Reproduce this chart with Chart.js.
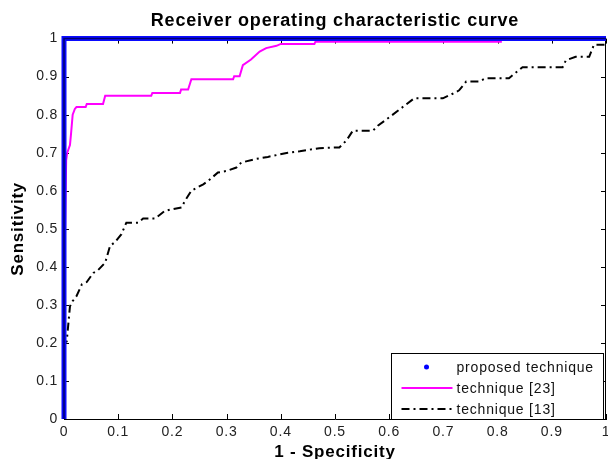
<!DOCTYPE html>
<html>
<head>
<meta charset="utf-8">
<script src="https://cdn.jsdelivr.net/npm/chart.js@4.4.1/dist/chart.umd.min.js"></script>
<style>
  html, body { margin: 0; padding: 0; background: #fff; }
  #wrap { width: 608px; height: 459px; }
</style>
</head>
<body>
<div id="wrap"><canvas id="roc" width="608" height="459"></canvas></div>
<script>
// Axis ticks
const xTicks = [0, 0.1, 0.2, 0.3, 0.4, 0.5, 0.6, 0.7, 0.8, 0.9, 1];
const yTicks = [0, 0.1, 0.2, 0.3, 0.4, 0.5, 0.6, 0.7, 0.8, 0.9, 1];

// Series names
const seriesNames = ['proposed technique', 'technique [23]', 'technique [13]'];
const chartTitle = 'Receiver operating characteristic curve';
const xTitle = '1 - Specificity';
const yTitle = 'Sensitivity';

// Proposed technique: (1 - specificity, sensitivity)
const fprProposed = [0, 0, 1];
const tprProposed = [0, 1, 1];

// Technique [23]
const fpr23 = [0, 0, 0.002, 0.004, 0.006, 0.011, 0.013, 0.016, 0.02, 0.023, 0.04, 0.042, 0.072, 0.076,
  0.161, 0.163, 0.214, 0.216, 0.229, 0.235, 0.312, 0.314, 0.324, 0.33, 0.345, 0.361, 0.373, 0.392,
  0.40, 0.462, 0.464, 0.806, 0.806, 1];
const tpr23 = [0, 0.3, 0.5, 0.68, 0.70, 0.72, 0.75, 0.80, 0.815, 0.82, 0.82, 0.828, 0.828, 0.85,
  0.85, 0.857, 0.857, 0.866, 0.866, 0.893, 0.893, 0.901, 0.901, 0.93, 0.945, 0.966, 0.975, 0.981,
  0.986, 0.986, 0.992, 0.992, 1, 1];

// Technique [13]
const fpr13 = [0, 0, 0.005, 0.008, 0.011, 0.016, 0.023, 0.033, 0.042, 0.054, 0.062, 0.076, 0.085,
  0.094, 0.106, 0.115, 0.137, 0.146, 0.168, 0.186, 0.195, 0.217, 0.223, 0.235, 0.257, 0.266, 0.284,
  0.300, 0.318, 0.327, 0.352, 0.376, 0.413, 0.435, 0.471, 0.508, 0.521, 0.533, 0.570, 0.579, 0.600,
  0.625, 0.646, 0.699, 0.717, 0.729, 0.742, 0.766, 0.778, 0.821, 0.827, 0.846, 0.920, 0.926, 0.944,
  0.969, 0.975, 0.978, 0.993, 0.998, 1];
const tpr13 = [0, 0.2, 0.204, 0.25, 0.296, 0.31, 0.323, 0.354, 0.36, 0.384, 0.39, 0.411, 0.455,
  0.465, 0.486, 0.516, 0.516, 0.527, 0.527, 0.547, 0.55, 0.556, 0.573, 0.60, 0.617, 0.626, 0.648,
  0.652, 0.661, 0.674, 0.683, 0.689, 0.70, 0.704, 0.712, 0.714, 0.732, 0.758, 0.758, 0.771, 0.793,
  0.82, 0.843, 0.843, 0.855, 0.864, 0.887, 0.887, 0.896, 0.896, 0.903, 0.925, 0.925, 0.943, 0.952,
  0.952, 0.974, 0.984, 0.984, 0.984, 1];

const toPoints = (xs, ys) => xs.map((x, i) => ({ x: x, y: ys[i] }));
const FONT = 'Liberation Sans, Arial, Helvetica, sans-serif';
const SPACING = '0.8px';
const fmt = v => (Math.round(v * 10) / 10).toString();

// Slightly wider letter spacing for all canvas text
const spacing = {
  id: 'spacing',
  beforeUpdate(c) { c.ctx.letterSpacing = SPACING; },
  beforeLayout(c) { c.ctx.letterSpacing = SPACING; },
  beforeDraw(c) { c.ctx.letterSpacing = SPACING; }
};

// Box frame with inward ticks on all four sides
const frameTicks = {
  id: 'frameTicks',
  beforeDatasetsDraw(chart) {
    const { ctx, chartArea: { left, right, top, bottom }, scales: { x, y } } = chart;
    const len = 5;
    ctx.save();
    ctx.strokeStyle = '#000';
    ctx.lineWidth = 1;
    ctx.beginPath();
    const t = Math.round(top) + 0.5, r = Math.round(right) - 0.5;
    ctx.moveTo(left, t); ctx.lineTo(right, t);
    ctx.moveTo(r, top); ctx.lineTo(r, bottom);
    xTicks.forEach(v => {
      const px = Math.round(x.getPixelForValue(v)) + 0.5;
      ctx.moveTo(px, bottom); ctx.lineTo(px, bottom - len);
      ctx.moveTo(px, top); ctx.lineTo(px, top + len);
    });
    yTicks.forEach(v => {
      const py = Math.round(y.getPixelForValue(v)) + 0.5;
      ctx.moveTo(left, py); ctx.lineTo(left + len, py);
      ctx.moveTo(right, py); ctx.lineTo(right - len, py);
    });
    ctx.stroke();
    ctx.restore();
  }
};

// Dark core along the dense marker trace of the proposed technique
const markerCore = {
  id: 'markerCore',
  afterDatasetDraw(chart, args) {
    if (args.index !== 0) return;
    const ctx = chart.ctx, pts = args.meta.data;
    ctx.save();
    ctx.strokeStyle = '#000070';
    ctx.lineWidth = 1.5;
    ctx.beginPath();
    pts.forEach((p, i) => i ? ctx.lineTo(p.x, p.y) : ctx.moveTo(p.x, p.y));
    ctx.stroke();
    ctx.restore();
  }
};

// Legend box inside the lower-right corner of the axes
const boxLegend = {
  id: 'boxLegend',
  afterDraw(chart) {
    const { ctx, chartArea } = chart;
    const w = 212, h = 66;
    const right = Math.round(chartArea.right) - 2.5;
    const bottom = Math.round(chartArea.bottom) + 0.5;
    const left = right - w, top = bottom - h;
    ctx.save();
    ctx.letterSpacing = SPACING;
    ctx.fillStyle = '#fff';
    ctx.fillRect(left, top, w, h);
    ctx.strokeStyle = '#000';
    ctx.lineWidth = 1;
    ctx.setLineDash([]);
    ctx.strokeRect(left, top, w, h);
    chart.data.datasets.forEach((ds, i) => {
      const cy = Math.round(top + 13.5 + i * 21);
      if (ds.legendMarker === 'dot') {
        ctx.fillStyle = '#0000ff';
        ctx.beginPath();
        ctx.arc(left + 35, cy, 2.5, 0, Math.PI * 2);
        ctx.fill();
      } else {
        ctx.strokeStyle = ds.borderColor;
        ctx.lineWidth = ds.borderWidth;
        ctx.setLineDash(ds.borderDash || []);
        ctx.beginPath();
        ctx.moveTo(left + 10, cy);
        ctx.lineTo(left + 61, cy);
        ctx.stroke();
        ctx.setLineDash([]);
      }
      ctx.fillStyle = '#111';
      ctx.font = '14px ' + FONT;
      ctx.textBaseline = 'middle';
      ctx.textAlign = 'left';
      ctx.fillText(ds.label, left + 65, cy + 1);
    });
    ctx.restore();
  }
};

new Chart(document.getElementById('roc'), {
  type: 'scatter',
  data: {
    datasets: [
      {
        label: seriesNames[0],
        data: toPoints(fprProposed, tprProposed),
        showLine: true,
        borderColor: '#0a0aff',
        borderWidth: 5,
        pointRadius: 0,
        clip: false,
        legendMarker: 'dot'
      },
      {
        label: seriesNames[1],
        data: toPoints(fpr23, tpr23),
        showLine: true,
        borderColor: '#ff00ff',
        borderWidth: 2,
        pointRadius: 0,
        clip: false
      },
      {
        label: seriesNames[2],
        data: toPoints(fpr13, tpr13),
        showLine: true,
        borderColor: '#000000',
        borderWidth: 2,
        borderDash: [8, 4, 2, 4],
        pointRadius: 0,
        clip: false
      }
    ]
  },
  options: {
    responsive: false,
    animation: false,
    events: [],
    layout: { padding: { left: 0, right: 2, top: 0, bottom: 0 } },
    plugins: {
      legend: { display: false },
      tooltip: { enabled: false },
      title: {
        display: true,
        fullSize: false,
        text: chartTitle,
        color: '#000',
        font: { family: FONT, size: 18, weight: 'bold' },
        padding: { top: 10, bottom: 7 }
      }
    },
    scales: {
      x: {
        type: 'linear',
        position: 'bottom',
        min: 0,
        max: 1,
        afterBuildTicks(s) { s.ticks = xTicks.map(v => ({ value: v })); },
        afterFit(s) { s.height = 40; s.paddingLeft = 0; s.paddingRight = 0; },
        grid: { display: false, drawTicks: false },
        border: { display: true, color: '#000', width: 1 },
        ticks: {
          padding: 5,
          color: '#222',
          font: { family: FONT, size: 14 },
          maxRotation: 0,
          autoSkip: false,
          callback: v => fmt(v)
        },
        title: {
          display: true,
          text: xTitle,
          color: '#000',
          font: { family: FONT, size: 17, weight: 'bold' },
          padding: { top: 0, bottom: -4 }
        }
      },
      y: {
        type: 'linear',
        min: 0,
        max: 1,
        afterBuildTicks(s) { s.ticks = yTicks.map(v => ({ value: v })); },
        afterFit(s) { s.width = 64; s.paddingTop = 0; s.paddingBottom = 0; },
        grid: { display: false, drawTicks: false },
        border: { display: true, color: '#000', width: 1 },
        ticks: {
          padding: 6,
          color: '#222',
          font: { family: FONT, size: 14 },
          autoSkip: false,
          callback: v => fmt(v)
        },
        title: {
          display: true,
          text: yTitle,
          color: '#000',
          font: { family: FONT, size: 17, weight: 'bold' },
          padding: { top: 8, bottom: 0 }
        }
      }
    }
  },
  plugins: [spacing, frameTicks, markerCore, boxLegend]
});
</script>
</body>
</html>
